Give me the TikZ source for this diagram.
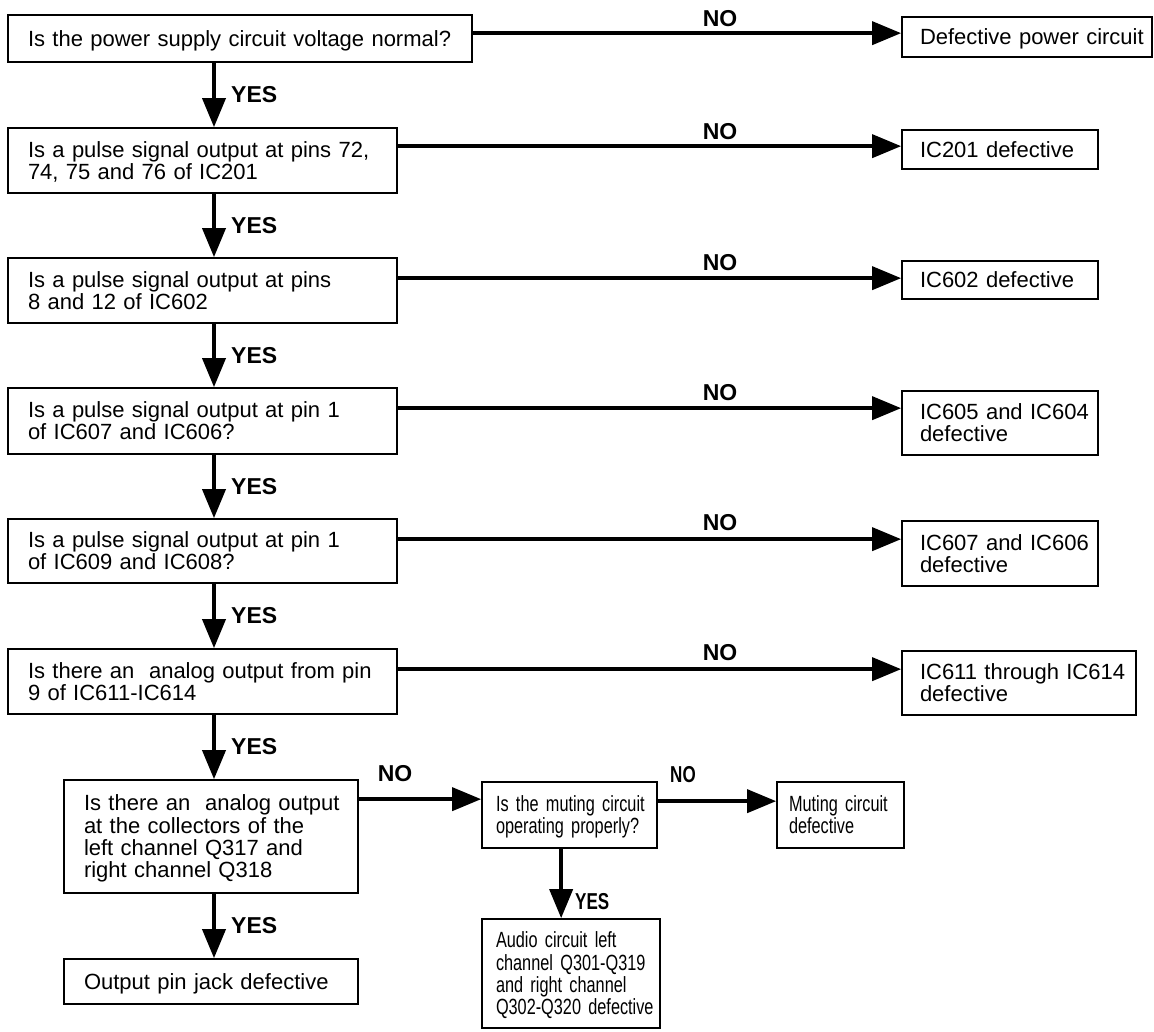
\documentclass[tikz,border=0pt]{standalone}
\usepackage{fontspec}
\setmainfont{Liberation Sans}
\newfontfamily\narrowfont[FakeStretch=0.74]{Liberation Sans}
\usetikzlibrary{arrows.meta,calc}
\newcommand\tlines[1]{\raisebox{-3pt}[\height][\depth]{\begin{tabular}{@{}l@{}}#1\end{tabular}}}
\begin{document}
\begin{tikzpicture}[x=1pt,y=-1pt,
  bx/.style={draw,line width=1.7pt,align=left,inner ysep=0pt,
    font=\fontsize{22}{21.5}\selectfont},
  nbx/.style={bx,font=\narrowfont\fontsize{22}{21.5}\selectfont},
  arr/.style={line width=3.8pt,-{Triangle[length=29pt,width=23pt]}},
  lab/.style={inner sep=0pt,font=\bfseries\fontsize{23}{23}\selectfont},
  nlab/.style={lab,font=\narrowfont\bfseries\fontsize{23}{23}\selectfont}]
\useasboundingbox (0,0) rectangle (1154,1031);
% question chain
\node[bx,minimum width=464pt,minimum height=47pt,text width=424pt,inner xsep=20pt] (q1) at (240,38.5) {\tlines{Is the power supply circuit voltage normal?}};
\node[bx,minimum width=389pt,minimum height=65pt,text width=349pt,inner xsep=20pt] (q2) at (202.5,160.5) {\tlines{Is a pulse signal output at pins 72,\\74, 75 and 76 of IC201}};
\node[bx,minimum width=389pt,minimum height=65pt,text width=349pt,inner xsep=20pt] (q3) at (202.5,290.5) {\tlines{Is a pulse signal output at pins\\8 and 12 of IC602}};
\node[bx,minimum width=389pt,minimum height=66pt,text width=349pt,inner xsep=20pt] (q4) at (202.5,421) {\tlines{Is a pulse signal output at pin 1\\of IC607 and IC606?}};
\node[bx,minimum width=389pt,minimum height=64pt,text width=349pt,inner xsep=20pt] (q5) at (202.5,551) {\tlines{Is a pulse signal output at pin 1\\of IC609 and IC608?}};
\node[bx,minimum width=389pt,minimum height=65pt,text width=349pt,inner xsep=20pt] (q6) at (202.5,681.5) {\tlines{Is there an\ \ analog output from pin\\9 of IC611-IC614}};
\node[bx,minimum width=294pt,minimum height=113pt,text width=254pt,inner xsep=20pt] (q7) at (211,836.5) {\tlines{Is there an\ \ analog output\\at the collectors of the\\left channel Q317 and\\right channel Q318}};
\node[bx,minimum width=294pt,minimum height=45pt,text width=254pt,inner xsep=20pt] (out) at (211,981.5) {\tlines{Output pin jack defective}};
% right column
\node[bx,minimum width=250pt,minimum height=40pt,text width=214pt,inner xsep=18pt] (d1) at (1027,37) {\tlines{Defective power circuit}};
\node[bx,minimum width=196pt,minimum height=39pt,text width=160pt,inner xsep=18pt] (d2) at (1000,149.5) {\tlines{IC201 defective}};
\node[bx,minimum width=196pt,minimum height=38pt,text width=160pt,inner xsep=18pt] (d3) at (1000,280) {\tlines{IC602 defective}};
\node[bx,minimum width=196pt,minimum height=64pt,text width=160pt,inner xsep=18pt] (d4) at (1000,423) {\tlines{IC605 and IC604\\defective}};
\node[bx,minimum width=196pt,minimum height=65pt,text width=160pt,inner xsep=18pt] (d5) at (1000,553.5) {\tlines{IC607 and IC606\\defective}};
\node[bx,minimum width=234pt,minimum height=64pt,text width=198pt,inner xsep=18pt] (d6) at (1019,683) {\tlines{IC611 through IC614\\defective}};
% bottom section
\node[nbx,minimum width=175pt,minimum height=66pt,text width=147pt,inner xsep=14pt] (mq) at (569.5,815) {\tlines{Is the muting circuit\\operating properly?}};
\node[nbx,minimum width=127pt,minimum height=66pt,text width=103pt,inner xsep=12pt] (md) at (840.5,815) {\tlines{Muting circuit\\defective}};
\node[nbx,minimum width=178pt,minimum height=109pt,text width=150pt,inner xsep=14pt] (au) at (571,973.5) {\tlines{Audio circuit left\\channel Q301-Q319\\and right channel\\Q302-Q320 defective}};
% vertical YES arrows
\coordinate (vx) at (214,0);
\draw[arr] (vx |- q1.south) -- (vx |- q2.north);
\draw[arr] (vx |- q2.south) -- (vx |- q3.north);
\draw[arr] (vx |- q3.south) -- (vx |- q4.north);
\draw[arr] (vx |- q4.south) -- (vx |- q5.north);
\draw[arr] (vx |- q5.south) -- (vx |- q6.north);
\draw[arr] (vx |- q6.south) -- (vx |- q7.north);
\draw[arr] (vx |- q7.south) -- (vx |- out.north);
\coordinate (mx) at ([xshift=80pt]mq.south west);
\draw[arr] (mx) -- (mx |- au.north);
% horizontal NO arrows
\coordinate (a1) at ([yshift=-19pt]q1.north east);
\coordinate (a2) at ([yshift=-19pt]q2.north east);
\coordinate (a3) at ([yshift=-21pt]q3.north east);
\coordinate (a4) at ([yshift=-21pt]q4.north east);
\coordinate (a5) at ([yshift=-21pt]q5.north east);
\coordinate (a6) at ([yshift=-21pt]q6.north east);
\coordinate (a7) at ([yshift=-20pt]q7.north east);
\coordinate (a8) at ([yshift=-20pt]mq.north east);
\draw[arr] (a1) -- (a1 -| d1.west);
\draw[arr] (a2) -- (a2 -| d2.west);
\draw[arr] (a3) -- (a3 -| d3.west);
\draw[arr] (a4) -- (a4 -| d4.west);
\draw[arr] (a5) -- (a5 -| d5.west);
\draw[arr] (a6) -- (a6 -| d6.west);
\draw[arr] (a7) -- (a7 -| mq.west);
\draw[arr] (a8) -- (a8 -| md.west);
% labels
\node[lab] (n1) at (720,19) {NO};
\node[lab] (n2) at (720,132) {NO};
\node[lab] (n3) at (720,263) {NO};
\node[lab] (n4) at (720,393) {NO};
\node[lab] (n5) at (720,523) {NO};
\node[lab] (n6) at (720,653) {NO};
\node[lab] (n7) at (395,773.5) {NO};
\node[nlab] (n8) at (683,775) {NO};
\node[lab,anchor=west] (y1) at (231,95) {YES};
\node[lab,anchor=west] (y2) at (231,225.5) {YES};
\node[lab,anchor=west] (y3) at (231,355.5) {YES};
\node[lab,anchor=west] (y4) at (231,486.5) {YES};
\node[lab,anchor=west] (y5) at (231,616) {YES};
\node[lab,anchor=west] (y6) at (231,747) {YES};
\node[lab,anchor=west] (y7) at (231,926) {YES};
\node[nlab,anchor=west] (y8) at (575,902) {YES};
\end{tikzpicture}
\end{document}
